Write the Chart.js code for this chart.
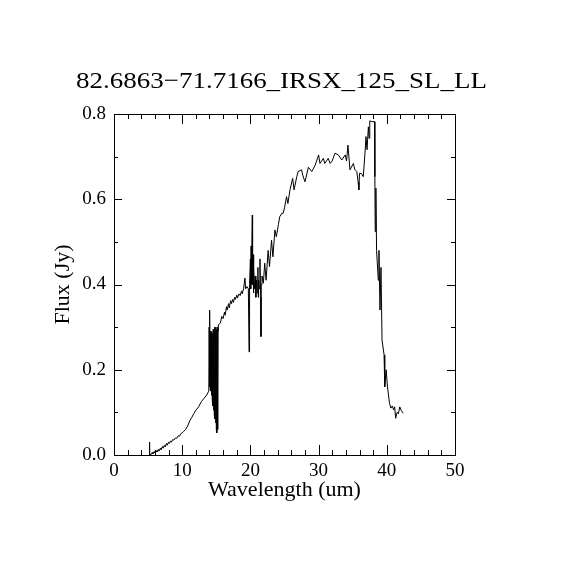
<!DOCTYPE html>
<html>
<head>
<meta charset="utf-8">
<script src="https://cdn.jsdelivr.net/npm/chart.js@4"></script>
<style>
html,body{margin:0;padding:0;background:#fff;}
#wrap{width:570px;height:570px;}
</style>
</head>
<body>
<div id="wrap"><canvas id="c" width="570" height="570"></canvas></div>
<script>
const titleText = "82.6863\u221271.7166_IRSX_125_SL_LL";
const xTitle = "Wavelength (um)";
const yTitle = "Flux (Jy)";
const xTicks = [0, 10, 20, 30, 40, 50];
const yTicks = [0.0, 0.2, 0.4, 0.6, 0.8];

const wavelength = [
 5.2,5.22,5.5,5.6,5.7,5.9,6.0,6.2,6.3,6.5,6.6,6.8,6.9,7.1,7.2,7.4,7.5,7.7,7.8,8.0,8.1,8.3,8.4,8.6,8.8,9.0,9.2,9.4,9.6,9.8,10.0,10.2,10.5,10.8,11.1,11.4,11.7,12.0,12.4,12.8,13.2,13.6,
 13.9,13.95,14.0,14.05,14.1,14.15,14.2,14.25,14.3,14.35,14.4,14.45,14.5,14.55,14.6,14.65,14.7,14.75,14.8,14.85,14.9,14.95,15.0,15.05,15.1,15.15,15.2,15.25,15.3,
 15.6,15.8,16.0,16.2,16.3,16.5,16.6,16.8,16.9,17.1,17.2,17.4,17.5,17.7,17.8,18.0,18.1,18.3,18.5,18.7,18.8,19.0,19.2,19.3,19.5,19.7,19.8,19.85,
 19.9,20.0,20.05,20.1,20.15,20.2,20.28,20.32,20.4,20.45,20.5,20.6,20.7,20.8,20.9,21.0,21.1,21.15,21.2,21.3,21.4,21.5,21.55,21.6,21.7,
 21.9,22.1,22.3,22.6,22.8,23.1,23.3,23.6,23.8,24.1,24.3,24.6,24.8,25.0,25.3,25.5,25.8,26.2,26.4,26.8,27.0,27.5,27.7,28.0,28.5,29.0,29.5,30.0,30.2,30.7,30.9,31.4,31.7,32.0,32.4,32.9,33.4,33.9,34.1,34.3,34.6,35.1,35.3,35.6,35.8,35.9,36.0,36.3,36.55,36.8,36.95,37.1,37.3,37.4,37.5,37.8,38.2,
 38.25,38.3,38.4,38.5,38.75,38.85,39.0,39.15,39.3,39.6,39.7,39.9,40.1,40.4,40.6,40.8,41.0,41.15,41.3,41.5,41.7,41.9,42.1,42.4
];
const flux = [
 0.03,0.0,0.002,0.006,0.003,0.008,0.005,0.01,0.007,0.013,0.009,0.016,0.012,0.02,0.016,0.023,0.019,0.027,0.023,0.03,0.027,0.033,0.03,0.036,0.035,0.04,0.039,0.045,0.044,0.05,0.052,0.055,0.06,0.068,0.08,0.088,0.097,0.105,0.113,0.125,0.133,0.141,
 0.15,0.3,0.16,0.34,0.155,0.29,0.15,0.28,0.14,0.29,0.13,0.285,0.115,0.295,0.105,0.29,0.095,0.3,0.085,0.29,0.075,0.3,0.06,0.295,0.052,0.3,0.06,0.29,0.305,
 0.31,0.325,0.32,0.335,0.328,0.348,0.34,0.355,0.345,0.362,0.355,0.365,0.358,0.37,0.365,0.375,0.368,0.378,0.374,0.385,0.378,0.39,0.415,0.39,0.395,0.39,0.242,0.395,
 0.4,0.46,0.39,0.49,0.4,0.45,0.563,0.40,0.47,0.38,0.44,0.39,0.42,0.37,0.41,0.38,0.44,0.37,0.41,0.39,0.46,0.37,0.278,0.4,0.42,
 0.403,0.45,0.41,0.48,0.442,0.504,0.465,0.528,0.512,0.54,0.559,0.567,0.567,0.58,0.606,0.59,0.622,0.649,0.622,0.653,0.665,0.669,0.655,0.641,0.675,0.665,0.68,0.704,0.684,0.696,0.684,0.696,0.684,0.69,0.708,0.704,0.692,0.704,0.69,0.727,0.669,0.684,0.67,0.665,0.64,0.622,0.661,0.66,0.653,0.708,0.747,0.716,0.77,0.743,0.784,0.782,0.782,
 0.653,0.524,0.626,0.48,0.41,0.48,0.34,0.44,0.27,0.235,0.16,0.2,0.16,0.121,0.11,0.115,0.106,0.113,0.086,0.1,0.097,0.113,0.105,0.098
];

const points = wavelength.map((w, i) => ({x: w, y: flux[i]}));

const frame = {
  id: 'frame',
  afterDraw(chart) {
    const {ctx, chartArea: a, scales: {x, y}} = chart;
    ctx.save();
    ctx.strokeStyle = '#000';
    ctx.lineWidth = 1;
    ctx.strokeRect(Math.round(a.left) + 0.5, Math.round(a.top) + 0.5, Math.round(a.right - a.left), Math.round(a.bottom - a.top));
    ctx.beginPath();
    for (let v = 0; v <= 50; v += 2) {
      const px = Math.round(x.getPixelForValue(v)) + 0.5;
      const len = (v % 10 === 0) ? 10 : 5;
      ctx.moveTo(px, a.bottom); ctx.lineTo(px, a.bottom - len);
      ctx.moveTo(px, a.top); ctx.lineTo(px, a.top + len);
    }
    for (let k = 0; k <= 8; k++) {
      const py = Math.round(y.getPixelForValue(k / 10)) + 0.5;
      const len = (k % 2 === 0) ? 8 : 4;
      ctx.moveTo(a.left, py); ctx.lineTo(a.left + len, py);
      ctx.moveTo(a.right, py); ctx.lineTo(a.right - len, py);
    }
    ctx.stroke();
    // title
    ctx.fillStyle = '#000';
    ctx.font = '24px "Liberation Serif"';
    ctx.textBaseline = 'alphabetic';
    const w = ctx.measureText(titleText).width;
    const target = 411;
    const cx = 281.5;
    ctx.translate(cx, 88);
    ctx.scale(target / w, 1);
    ctx.textAlign = 'center';
    ctx.fillText(titleText, 0, 0);
    ctx.restore();
  }
};

new Chart(document.getElementById('c'), {
  type: 'line',
  data: {
    datasets: [{
      data: points,
      borderColor: '#000',
      borderWidth: 1,
      pointRadius: 0,
      tension: 0,
      fill: false
    }]
  },
  options: {
    responsive: false,
    animation: false,
    devicePixelRatio: 1,
    layout: {padding: {top: 114, right: 115, left: 0, bottom: 0}},
    plugins: {legend: {display: false}, tooltip: {enabled: false}, title: {display: false}},
    scales: {
      x: {
        type: 'linear', min: 0, max: 50,
        afterFit(s) { s.height = 115; },
        afterBuildTicks(s) { s.ticks = xTicks.map(v => ({value: v})); },
        grid: {display: false, drawTicks: false},
        border: {display: false},
        ticks: {color: '#000', padding: 5, maxRotation: 0, autoSkip: false,
                font: {family: 'Liberation Serif', size: 19},
                callback: v => String(v)},
        title: {display: true, text: xTitle, color: '#000',
                font: {family: 'Liberation Serif', size: 22},
                padding: {top: 0, bottom: 67}}
      },
      y: {
        type: 'linear', min: 0, max: 0.8,
        afterFit(s) { s.width = 114; },
        afterBuildTicks(s) { s.ticks = yTicks.map(v => ({value: v})); },
        grid: {display: false, drawTicks: false},
        border: {display: false},
        ticks: {color: '#000', padding: 8, autoSkip: false,
                font: {family: 'Liberation Serif', size: 19},
                callback: v => Number(v).toFixed(1)},
        title: {display: true, text: yTitle, color: '#000',
                font: {family: 'Liberation Serif', size: 22},
                padding: {top: 50, bottom: 0}}
      }
    }
  },
  plugins: [frame]
});
</script>
</body>
</html>
